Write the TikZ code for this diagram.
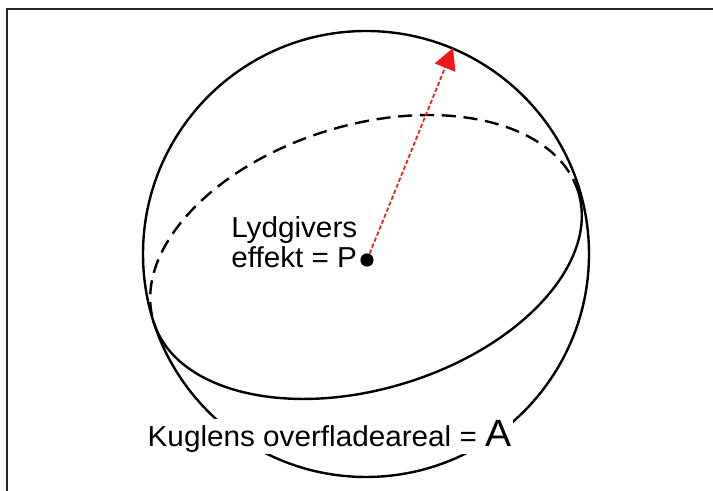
\documentclass[tikz,border=0pt]{standalone}
\usepackage{fontspec}
\newfontfamily\lblfont[FakeStretch=1.03]{Liberation Sans}
\usepackage{tikz}
\usetikzlibrary{arrows.meta, positioning}
\definecolor{RayRed}{HTML}{F01818}
\definecolor{FrameGray}{HTML}{262626}

\begin{document}
\begin{tikzpicture}[
        x=0.025cm, y=0.025cm,
        frame/.style={line width=0.05cm, FrameGray},
        shell/.style={line width=0.06cm, black},
        front/.style={line width=0.06cm, black},
        back/.style={line width=0.06cm, black, dash pattern=on 10pt off 5.5pt},
        ray/.style={-{Triangle[length=0.53cm, width=0.55cm]}, line width=1.2pt, RayRed, dash pattern=on 3pt off 1.6pt},
        dot/.style={circle, fill=black, inner sep=0pt, minimum size=0.33cm},
        lbl/.style={font=\lblfont\fontsize{20.5pt}{22pt}\selectfont, align=left, inner sep=0pt},
      ]
        \def\R{223}\def\a{222}\def\b{132}\def\tilt{17}
        \useasboundingbox (0,0) rectangle (713,491);
        % ---- ramme ----
        \draw[frame] (7,-5) |- (720,482);
        % ---- kugle ----
        \coordinate (c) at (366,237);
        \draw[shell] (c) circle[radius=\R];
        % ---- storcirkel (bagside stiplet, forside fuld) ----
        \begin{scope}[shift={(366,234)}, rotate=\tilt]
          \draw[back] (\a,0) arc[start angle=0, end angle=180, x radius=\a, y radius=\b];
          \draw[front] (-\a,0) arc[start angle=180, end angle=360, x radius=\a, y radius=\b];
        \end{scope}
        % ---- lydgiver og stråle ----
        \node[dot] (src) at (367,231) {};
        \coordinate (tip) at (453,443);
        \draw[ray] (src) -- (tip);
        \node[lbl, anchor=base west] (srclbl) at (231,223) {Lydgivers\\effekt = P};
        % ---- overfladeareal ----
        \node[lbl, fill=white, inner sep=1pt, anchor=base west] (area) at (146,44)
          {Kuglens overfladeareal = {\fontsize{27pt}{27pt}\selectfont A}};
      \end{tikzpicture}
\end{document}
